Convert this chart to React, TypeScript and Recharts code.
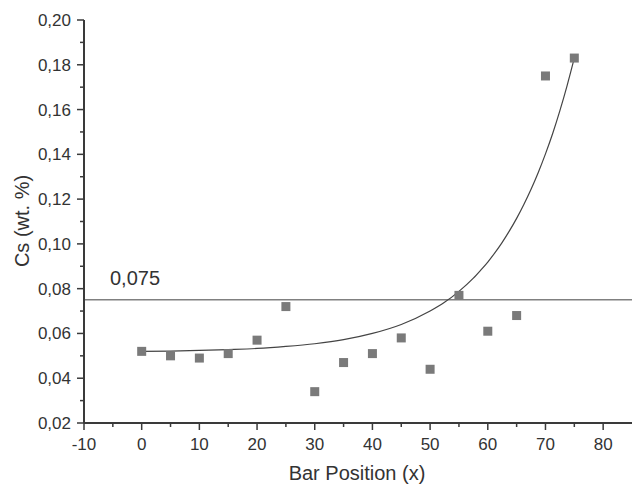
import React from 'react';
import { ComposedChart, Scatter, Line, XAxis, YAxis, ReferenceLine, ZAxis } from 'recharts';

const positions = [0, 5, 10, 15, 20, 25, 30, 35, 40, 45, 50, 55, 60, 65, 70, 75];
const csValues = [0.052, 0.05, 0.049, 0.051, 0.057, 0.072, 0.034, 0.047, 0.051, 0.058, 0.044, 0.077, 0.061, 0.068, 0.175, 0.183];

const fitX = [0, 5, 10, 15, 20, 25, 30, 35, 40, 45, 50, 52.5, 55, 57.5, 58.75, 60, 61.25, 62.5, 63.75, 65, 66.25, 67.5, 68.75, 70, 71.25, 72.5, 73.75, 75];
const fitY = [0.052, 0.0521, 0.0524, 0.0528, 0.0533, 0.0542, 0.0554, 0.0572, 0.06, 0.064, 0.07, 0.0739, 0.0788, 0.0847, 0.0882, 0.0919, 0.0961, 0.1007, 0.1058, 0.1114, 0.1176, 0.1244, 0.1319, 0.1402, 0.1493, 0.1595, 0.1707, 0.183];

const limitValue = 0.075;
const limitLabel = '0,075';

const xTicks = [-10, -5, 0, 5, 10, 15, 20, 25, 30, 35, 40, 45, 50, 55, 60, 65, 70, 75, 80];
const yTicks = [0.02, 0.03, 0.04, 0.05, 0.06, 0.07, 0.08, 0.09, 0.1, 0.11, 0.12, 0.13, 0.14, 0.15, 0.16, 0.17, 0.18, 0.19, 0.2];

const xTitle = 'Bar Position (x)';
const yTitle = 'Cs (wt. %)';

const scatterData = positions.map((x, i) => ({ x, y: csValues[i] }));
const fitData = fitX.map((x, i) => ({ x, y: fitY[i] }));

const FONT = '"Liberation Sans", Arial, sans-serif';
const AXIS = '#3a3a3a';
const TEXT = '#333333';

const YTick = (props: any) => {
  const { x, y, payload } = props;
  const v = payload.value as number;
  const major = Math.round(v * 100) % 2 === 0;
  return (
    <g>
      <line x1={x - (major ? 7 : 4)} x2={x} y1={y} y2={y} stroke={AXIS} strokeWidth={1.5} />
      {major && (
        <text x={x - 13} y={y} dy={6} textAnchor="end" fontSize={17} fontFamily={FONT} fill={TEXT}>
          {v.toFixed(2).replace('.', ',')}
        </text>
      )}
    </g>
  );
};

const XTick = (props: any) => {
  const { x, y, payload } = props;
  const v = payload.value as number;
  const major = v % 10 === 0;
  return (
    <g>
      <line x1={x} x2={x} y1={y} y2={y + (major ? 7 : 4)} stroke={AXIS} strokeWidth={1.5} />
      {major && (
        <text x={x} y={y + 27} textAnchor="middle" fontSize={17} fontFamily={FONT} fill={TEXT}>
          {String(v)}
        </text>
      )}
    </g>
  );
};

const Square = (props: any) => {
  const { cx, cy } = props;
  return <rect x={cx - 4.5} y={cy - 4.5} width={9} height={9} fill="#7a7a7a" />;
};

const RefLabel = (props: any) => {
  const vb = props.viewBox || {};
  return (
    <text x={vb.x + 26} y={vb.y - 15} fontSize={20} fontFamily={FONT} fill={TEXT}>
      {limitLabel}
    </text>
  );
};

const YTitle = () => (
  <text x={29} y={221} transform="rotate(-90 29 221)" textAnchor="middle" fontSize={20} fontFamily={FONT} fill={TEXT}>
    {yTitle}
  </text>
);

const XTitle = () => (
  <text x={357} y={480} textAnchor="middle" fontSize={20} fontFamily={FONT} fill={TEXT}>
    {xTitle}
  </text>
);

export default function App() {
  return (
    <div style={{ position: 'absolute', left: 0, top: 0, width: 632, height: 485, background: '#fff' }}>
      <ComposedChart width={632} height={485} margin={{ top: 20, right: 0, bottom: 0, left: 0 }}>
        <XAxis
          dataKey="x"
          type="number"
          domain={[-10, 85]}
          ticks={xTicks}
          interval={0}
          height={62}
          tickSize={0}
          tickMargin={0}
          tickLine={false}
          axisLine={{ stroke: AXIS, strokeWidth: 2 }}
          tick={<XTick />}
          allowDataOverflow
          label={<XTitle />}
        />
        <YAxis
          dataKey="y"
          type="number"
          domain={[0.02, 0.2]}
          ticks={yTicks}
          interval={0}
          width={84}
          tickSize={0}
          tickMargin={0}
          tickLine={false}
          axisLine={{ stroke: AXIS, strokeWidth: 2 }}
          tick={<YTick />}
          allowDataOverflow
          label={<YTitle />}
        />
        <ZAxis range={[81, 81]} />
        <ReferenceLine y={limitValue} stroke="#808080" strokeWidth={1.5} label={<RefLabel />} />
        <Line
          data={fitData}
          dataKey="y"
          type="monotone"
          stroke="#444444"
          strokeWidth={1.2}
          dot={false}
          activeDot={false}
          isAnimationActive={false}
        />
        <Scatter data={scatterData} dataKey="y" shape={<Square />} isAnimationActive={false} />
      </ComposedChart>
    </div>
  );
}
